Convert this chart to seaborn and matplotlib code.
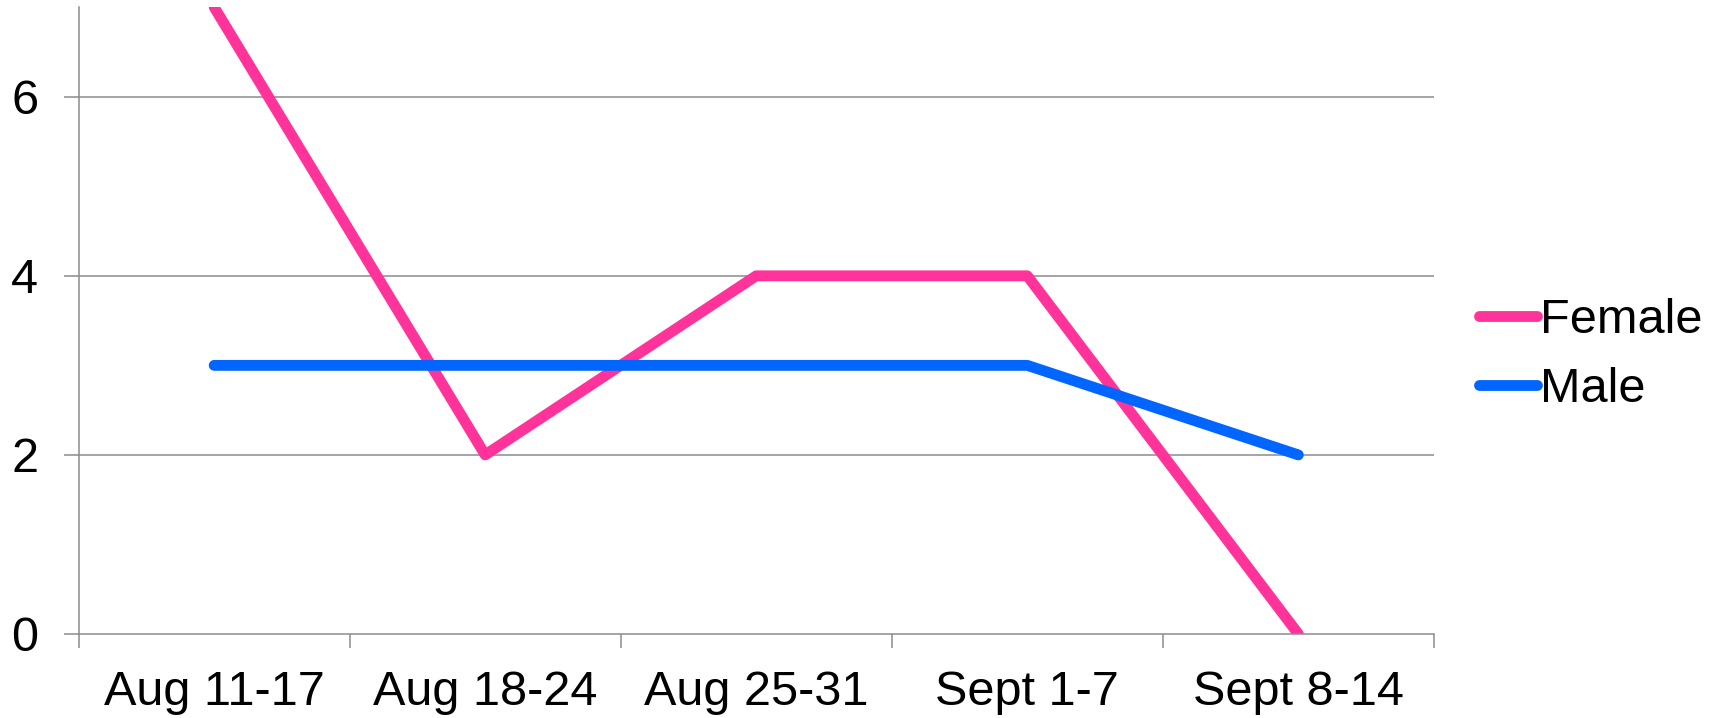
import pandas as pd
import numpy as np
import matplotlib
matplotlib.use("Agg")
import matplotlib.pyplot as plt
import seaborn as sns

semanas = ['Aug 11-17', 'Aug 18-24', 'Aug 25-31', 'Sept 1-7', 'Sept 8-14']
female = [7, 2, 4, 4, 0]
male = [3, 3, 3, 3, 2]
y_ticks = [0, 2, 4, 6]

df = pd.DataFrame({
    'Semana': semanas * 2,
    'Valor': female + male,
    'Genero': ['Female'] * len(semanas) + ['Male'] * len(semanas),
})
df['pos'] = df['Semana'].map({s: i for i, s in enumerate(semanas)})

sns.set_theme(style="white")
plt.rcParams['font.family'] = ['Liberation Sans', 'DejaVu Sans']
plt.rcParams['text.color'] = 'black'
plt.rcParams['xtick.color'] = 'black'
plt.rcParams['ytick.color'] = 'black'

fig = plt.figure(figsize=(17.09, 7.18), dpi=100)
ax = fig.add_axes([0.046, 0.117, 0.793, 0.873])

gris = '#8c8c8c'
for y in y_ticks[1:]:
    ax.axhline(y, color=gris, lw=1.1, zorder=0)

sns.lineplot(
    data=df, x='pos', y='Valor', hue='Genero',
    palette={'Female': '#ff3399', 'Male': '#0066ff'},
    linewidth=7.8, ax=ax, solid_capstyle='round'
)

ax.set_xlim(-0.5, len(semanas) - 0.5)
ax.set_ylim(0, 7)
ax.set_yticks(y_ticks)
ax.set_xticks(range(len(semanas)))
ax.set_xticklabels(semanas)
ax.set_xticks(np.arange(-0.5, len(semanas)), minor=True)
ax.tick_params(axis='x', which='major', bottom=False, length=0, pad=26, labelsize=35,
               labelcolor='black')
ax.tick_params(axis='x', which='minor', bottom=True, length=10, width=1.1, color=gris,
               direction='out')
ax.tick_params(axis='y', left=True, length=11, width=1.1, color=gris, direction='out',
               pad=18, labelsize=35, labelcolor='black')
ax.set_xlabel('')
ax.set_ylabel('')

for lado in ['top', 'right']:
    ax.spines[lado].set_visible(False)
for lado in ['left', 'bottom']:
    ax.spines[lado].set_color(gris)
    ax.spines[lado].set_linewidth(1.1)

leg = ax.legend(loc='center left', bbox_to_anchor=(1.008, 0.445), frameon=False,
                fontsize=35, handlelength=1.2, handletextpad=0.06, labelspacing=0.5,
                borderaxespad=0.3)
for linea in leg.get_lines():
    linea.set_linewidth(7.8)
    linea.set_solid_capstyle('round')

fig.savefig('out.png', dpi=100)
